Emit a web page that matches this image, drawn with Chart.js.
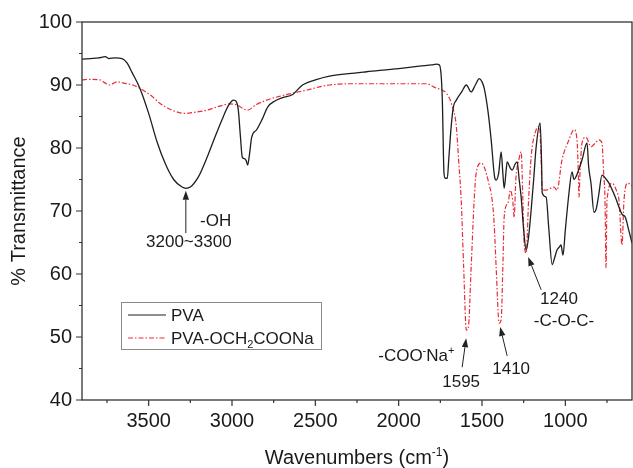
<!DOCTYPE html>
<html><head><meta charset="utf-8">
<script src="https://cdn.jsdelivr.net/npm/chart.js@4.4.1/dist/chart.umd.min.js"></script>
<style>html,body{margin:0;padding:0;background:#fff}</style>
</head><body>
<canvas id="c" width="633" height="468"></canvas>
<script>
// ---- data ----
const pvaWavenumbers = [3900,3850,3800,3760,3740,3700,3660,3630,3600,3553,3500,3450,3400,3350,3300,3277,3250,3200,3150,3116,3060,3020,2990,2975,2962,2950,2938,2925,2915,2906,2895,2882,2852,2820,2786,2740,2696,2636,2577,2500,2415,2300,2193,2000,1876,1800,1774,1756,1745,1738,1728,1720,1708,1700,1685,1672,1654,1620,1594,1565,1540,1516,1500,1487,1465,1445,1425,1415,1400,1385,1375,1367,1355,1349,1330,1319,1300,1289,1277,1265,1250,1235,1220,1205,1190,1175,1151,1142,1139,1115,1100,1079,1065,1050,1035,1026,1014,1000,978,960,948,935,920,900,870,860,846,828,815,800,780,760,740,700,660,640,620,600];
const pvaTransmittance = [94.1,94.2,94.3,94.5,94.2,94.3,94.2,93.5,92.0,89.5,85.5,81.0,77.5,75.0,73.8,73.6,73.8,75.5,78.5,80.8,84.5,86.8,87.6,87.4,86.0,82.0,78.5,78.3,78.0,77.3,79.0,81.7,82.9,84.5,86.5,87.5,88.0,88.5,90.0,90.8,91.4,91.8,92.1,92.6,93.0,93.2,93.3,93.2,91.5,87.6,76.0,75.2,75.2,78.0,83.4,86.5,87.6,89.0,90.0,88.9,90.0,91.0,90.5,89.5,86.0,81.3,75.5,74.9,76.0,79.4,76.0,73.6,76.5,77.8,76.8,76.5,77.5,77.8,75.0,72.2,67.0,63.8,66.0,70.2,75.0,80.2,84.0,77.0,72.9,72.2,67.5,61.5,62.5,63.8,64.3,64.6,63.0,67.0,72.9,76.2,75.0,75.5,76.5,78.1,80.8,77.0,74.4,69.8,70.3,72.5,75.7,75.2,74.5,72.2,69.5,69.0,67.0,64.9];
const cmWavenumbers = [3900,3850,3792,3760,3732,3710,3690,3650,3595,3535,3480,3433,3350,3283,3220,3152,3080,3014,2966,2930,2906,2860,2792,2700,2636,2550,2475,2415,2300,2100,1900,1834,1774,1750,1714,1684,1654,1640,1624,1610,1594,1582,1565,1547,1535,1505,1487,1460,1439,1427,1415,1397,1385,1375,1367,1343,1330,1315,1307,1297,1280,1265,1255,1247,1235,1220,1205,1175,1155,1145,1139,1115,1090,1068,1050,1020,978,948,930,922,918,912,900,876,846,820,798,780,770,762,756,750,720,690,678,660,648,625,600];
const cmTransmittance = [90.8,90.9,90.8,90.3,90.0,90.3,90.5,90.3,90.0,89.2,88.2,87.1,85.9,85.5,85.7,86.0,86.6,87.0,86.8,86.2,86.0,86.8,87.6,88.3,88.7,89.2,89.7,90.0,90.2,90.2,90.2,90.2,89.5,89.3,88.7,87.1,83.4,78.0,71.3,61.1,51.1,51.5,61.1,71.7,76.0,77.6,77.0,74.5,71.7,68.0,61.0,52.2,52.7,61.0,69.0,71.4,73.3,71.5,69.0,75.0,78.0,79.4,72.0,64.9,63.3,72.0,78.6,82.9,83.4,78.0,73.3,73.3,73.6,73.8,73.3,78.1,81.3,82.9,81.3,76.0,72.2,76.0,80.8,81.7,80.2,80.8,81.3,80.8,76.0,71.7,61.0,71.7,74.4,73.0,71.7,64.6,71.7,74.4,74.0];
const seriesNames = ['PVA', 'PVA-OCH2COONa'];
const xMajorTicks = [3500,3000,2500,2000,1500,1000];
const xMinorTicks = [3750,3250,2750,2250,1750,1250,750];
const yMajorTicks = [40,50,60,70,80,90,100];
const yMinorTicks = [45,55,65,75,85,95];
const xTitle = 'Wavenumbers (cm';
const yTitle = '% Transmittance';
// annotation arrows: [tail wavenumber, tail %T, tip wavenumber, tip %T]
const annotationArrows = [[3277,66.5,3277,73.2],[1619,45.2,1595,49.8],[1349,47.0,1391,51.6],[1145,57.5,1223,62.7]];
// annotation labels: [wavenumber, %T, text segments]
const annotationLabels = [
  [3098,68.6,[['-OH']]],
  [3259,65.2,[['3200~3300']]],
  [1625,43.0,[['1595']]],
  [1894,47.1,[['-COO'],['-','sup'],['Na'],['+','sup']]],
  [1325,45.1,[['1410']]],
  [1038,56.2,[['1240']]],
  [1008,52.7,[['-C-O-C-']]]
];

const FONT = "'Liberation Sans', Arial, sans-serif";
const BLACK = '#1e1e1e';
const RED = 'rgb(232,45,55)';
const RED_DASH = [5,2,1.5,2];

function toPoints(xs, ys){ return xs.map((x,i)=>({x:x, y:ys[i]})); }

function richWidth(ctx, segs, size){
  let w=0;
  for(const s of segs){
    ctx.font = (s[1] ? Math.round(size*0.62) : size) + 'px ' + FONT;
    w += ctx.measureText(s[0]).width;
  }
  return w;
}
function drawRich(ctx, segs, x, y, size, align){
  const total = richWidth(ctx, segs, size);
  let cx = align==='center' ? x - total/2 : x;
  ctx.textBaseline = 'alphabetic';
  ctx.textAlign = 'left';
  for(const s of segs){
    let sz = size, dy = 0;
    if(s[1]==='sup'){ sz = Math.round(size*0.62); dy = -size*0.42; }
    if(s[1]==='sub'){ sz = Math.round(size*0.62); dy = size*0.25; }
    ctx.font = sz + 'px ' + FONT;
    ctx.fillText(s[0], cx, y+dy);
    cx += ctx.measureText(s[0]).width;
  }
}

const decor = {
  id:'decor',
  afterDraw(chart){
    const ctx = chart.ctx, a = chart.chartArea;
    const xs = chart.scales.x, ys = chart.scales.y;
    ctx.save();
    // frame
    ctx.strokeStyle = '#333'; ctx.lineWidth = 1.3;
    ctx.strokeRect(a.left, a.top, a.right-a.left, a.bottom-a.top);
    // ticks
    ctx.lineWidth = 1.2;
    ctx.beginPath();
    for(const v of xMajorTicks){ const p = xs.getPixelForValue(v); ctx.moveTo(p,a.bottom); ctx.lineTo(p,a.bottom+6); }
    for(const v of xMinorTicks){ const p = xs.getPixelForValue(v); ctx.moveTo(p,a.bottom); ctx.lineTo(p,a.bottom+3); }
    for(const v of yMajorTicks){ const p = ys.getPixelForValue(v); ctx.moveTo(a.left,p); ctx.lineTo(a.left-6,p); }
    for(const v of yMinorTicks){ const p = ys.getPixelForValue(v); ctx.moveTo(a.left,p); ctx.lineTo(a.left-3,p); }
    ctx.stroke();
    // axis titles
    ctx.fillStyle = '#1a1a1a';
    drawRich(ctx, [[xTitle],['-1','sup'],[')']], (a.left+a.right)/2, 464, 20, 'center');
    ctx.save();
    ctx.translate(25, (a.top+a.bottom)/2);
    ctx.rotate(-Math.PI/2);
    drawRich(ctx, [[yTitle]], 0, 0, 20, 'center');
    ctx.restore();
    // legend
    const lx = a.left+39, ly = a.top+280, lw = 200, lh = 47;
    ctx.fillStyle = '#fff';
    ctx.fillRect(lx, ly, lw, lh);
    ctx.strokeStyle = '#8a8a8a'; ctx.lineWidth = 1;
    ctx.strokeRect(lx+0.5, ly+0.5, lw, lh);
    const rows = [[seriesNames[0], BLACK, []], [seriesNames[1], RED, RED_DASH]];
    rows.forEach((r,i)=>{
      const y = ly + 13 + i*23;
      ctx.strokeStyle = r[1]; ctx.lineWidth = 1.2; ctx.setLineDash(r[2]);
      ctx.beginPath(); ctx.moveTo(lx+7,y); ctx.lineTo(lx+45,y); ctx.stroke();
      ctx.setLineDash([]);
      ctx.fillStyle = '#1a1a1a';
      const segs = i===0 ? [[r[0]]] : [[r[0].slice(0,7)],['2','sub'],[r[0].slice(8)]];
      drawRich(ctx, segs, lx+50, y+6, 17, 'left');
    });
    // annotations
    ctx.strokeStyle = '#222'; ctx.fillStyle = '#222'; ctx.lineWidth = 1;
    for(const ar of annotationArrows){
      const x0 = xs.getPixelForValue(ar[0]), y0 = ys.getPixelForValue(ar[1]);
      const x1 = xs.getPixelForValue(ar[2]), y1 = ys.getPixelForValue(ar[3]);
      const ang = Math.atan2(y1-y0, x1-x0);
      const hl = 9, hw = 3.2;
      const bx = x1 - hl*Math.cos(ang), by = y1 - hl*Math.sin(ang);
      ctx.beginPath(); ctx.moveTo(x0,y0); ctx.lineTo(bx,by); ctx.stroke();
      ctx.beginPath();
      ctx.moveTo(x1,y1);
      ctx.lineTo(bx + hw*Math.sin(ang), by - hw*Math.cos(ang));
      ctx.lineTo(bx - hw*Math.sin(ang), by + hw*Math.cos(ang));
      ctx.closePath(); ctx.fill();
    }
    ctx.fillStyle = '#1a1a1a';
    for(const lb of annotationLabels){
      const x = xs.getPixelForValue(lb[0]), y = ys.getPixelForValue(lb[1]);
      drawRich(ctx, lb[2], x, y+6, 17, 'center');
    }
    ctx.restore();
  }
};

new Chart(document.getElementById('c'), {
  type:'line',
  data:{
    datasets:[
      {label:seriesNames[0], data:toPoints(pvaWavenumbers,pvaTransmittance), borderColor:BLACK, borderWidth:1.3, pointRadius:0, fill:false, cubicInterpolationMode:'monotone'},
      {label:seriesNames[1], data:toPoints(cmWavenumbers,cmTransmittance), borderColor:RED, borderWidth:1.2, borderDash:RED_DASH, pointRadius:0, fill:false, cubicInterpolationMode:'monotone'}
    ]
  },
  options:{
    responsive:false, animation:false, events:[],
    layout:{padding:{top:22,right:1,left:0,bottom:0}},
    plugins:{legend:{display:false}, tooltip:{enabled:false}},
    scales:{
      x:{type:'linear', reverse:true, min:600, max:3900,
        grid:{display:false, drawTicks:false}, border:{display:false},
        afterBuildTicks(s){ s.ticks = xMajorTicks.map(v=>({value:v})); },
        afterFit(s){ s.height = 68; },
        ticks:{padding:9, color:'#1a1a1a', font:{family:FONT, size:20}, maxRotation:0, autoSkip:false, callback:v=>String(v)}
      },
      y:{type:'linear', min:40, max:100,
        grid:{display:false, drawTicks:false}, border:{display:false},
        afterBuildTicks(s){ s.ticks = yMajorTicks.map(v=>({value:v})); },
        afterFit(s){ s.width = 82; },
        ticks:{padding:10, color:'#1a1a1a', font:{family:FONT, size:20}, callback:v=>String(v)}
      }
    }
  },
  plugins:[decor]
});
</script>
</body></html>
